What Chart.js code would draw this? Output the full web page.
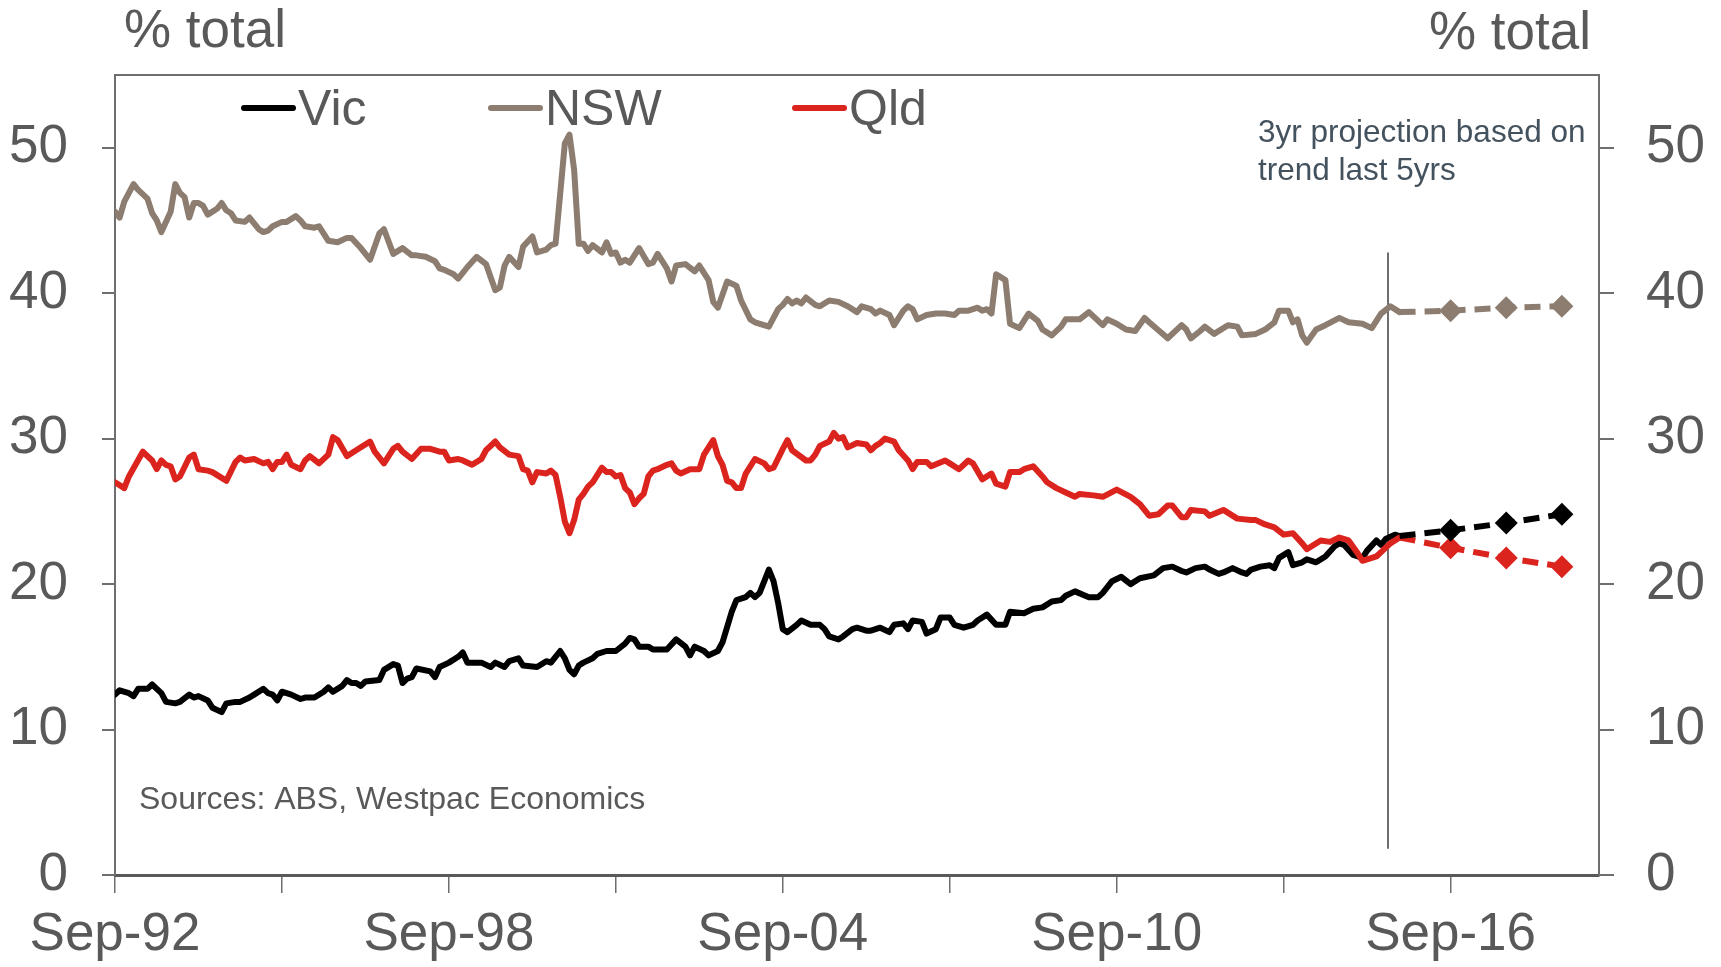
<!DOCTYPE html>
<html>
<head>
<meta charset="utf-8">
<title>Share of total - Vic, NSW, Qld</title>
<script src="https://cdn.jsdelivr.net/npm/chart.js@4.4.1/dist/chart.umd.min.js"></script>
<style>
  html, body { margin: 0; padding: 0; background: #fff; }
  #chart { display: block; }
</style>
</head>
<body>
<canvas id="chart" width="1721" height="967"></canvas>
<script>
// x = months since Sep-92, y = % of total
const vic = [[0,12.4],[1,12.7],[3,12.5],[4,12.3],[5,12.8],[7,12.8],[8,13.1],[10,12.5],[11,11.9],[13,11.8],[14,11.9],[16,12.4],[17,12.2],[18,12.3],[20,12.0],[21,11.5],[23,11.2],[24,11.8],[26,11.9],[27,11.9],[29,12.2],[30,12.4],[32,12.8],[33,12.5],[34,12.4],[35,12.0],[36,12.6],[38,12.4],[40,12.1],[41,12.2],[43,12.2],[45,12.6],[46,12.9],[47,12.6],[49,13.0],[50,13.4],[51,13.2],[52,13.2],[53,13.0],[54,13.3],[57,13.4],[58,14.1],[60,14.5],[61,14.4],[62,13.2],[63,13.5],[64,13.6],[65,14.2],[68,14.0],[69,13.6],[70,14.3],[72,14.6],[74,15.0],[75,15.3],[76,14.6],[79,14.6],[81,14.3],[82,14.6],[84,14.3],[85,14.7],[87,14.9],[88,14.4],[91,14.3],[93,14.7],[94,14.6],[96,15.4],[97,14.9],[98,14.1],[99,13.8],[100,14.4],[101,14.6],[103,14.9],[104,15.2],[106,15.4],[108,15.4],[110,15.9],[111,16.3],[112,16.2],[113,15.7],[115,15.7],[116,15.5],[117,15.5],[119,15.5],[121,16.2],[123,15.7],[124,15.1],[125,15.7],[127,15.4],[128,15.1],[130,15.4],[131,16.0],[133,18.1],[134,18.9],[136,19.1],[137,19.4],[138,19.1],[139,19.4],[141,21.0],[142,20.2],[143,18.7],[144,16.9],[145,16.7],[147,17.2],[148,17.5],[150,17.2],[152,17.2],[153,16.9],[154,16.4],[156,16.2],[157,16.4],[159,16.9],[160,17.0],[162,16.8],[163,16.8],[165,17.0],[167,16.7],[168,17.2],[170,17.3],[171,16.9],[172,17.5],[174,17.4],[175,16.6],[177,16.9],[178,17.7],[180,17.7],[181,17.2],[183,17.0],[185,17.2],[186,17.5],[188,17.9],[190,17.2],[192,17.2],[193,18.1],[196,18.0],[198,18.3],[200,18.4],[202,18.8],[204,18.9],[205,19.2],[207,19.5],[210,19.1],[212,19.1],[213,19.4],[215,20.2],[217,20.5],[219,20.0],[221,20.4],[224,20.6],[226,21.1],[228,21.2],[230,20.9],[231,20.8],[233,21.1],[235,21.2],[236,21.0],[238,20.7],[239,20.8],[241,21.1],[243,20.8],[244,20.7],[245,21.0],[247,21.2],[249,21.3],[250,21.1],[251,21.8],[253,22.2],[254,21.3],[256,21.5],[257,21.7],[259,21.5],[261,21.9],[263,22.6],[264,22.8],[265,22.7],[267,22.0],[269,21.8],[270,22.3],[272,23.0],[273,22.7],[274,23.1],[276,23.4],[277,23.3]];

const nsw = [[0,45.6],[1,45.2],[2,46.3],[4,47.5],[5,47.1],[7,46.5],[8,45.5],[9,45.0],[10,44.2],[12,45.6],[13,47.5],[14,46.9],[15,46.6],[16,45.2],[17,46.2],[18,46.2],[19,46.0],[20,45.4],[22,45.8],[23,46.2],[24,45.7],[25,45.5],[26,45.0],[28,44.9],[29,45.2],[30,44.8],[31,44.4],[32,44.2],[33,44.3],[34,44.6],[36,44.9],[37,44.9],[39,45.3],[40,45.0],[41,44.6],[43,44.5],[44,44.6],[46,43.6],[48,43.5],[50,43.8],[51,43.8],[53,43.1],[55,42.3],[57,44.1],[58,44.4],[60,42.7],[62,43.1],[64,42.6],[65,42.6],[67,42.5],[69,42.2],[70,41.7],[71,41.6],[73,41.3],[74,41.0],[76,41.8],[78,42.5],[80,42.0],[82,40.2],[83,40.4],[84,41.9],[85,42.5],[87,41.8],[88,43.2],[90,43.9],[91,42.8],[93,43.0],[94,43.3],[95,43.4],[97,50.3],[98,50.9],[99,48.5],[100,43.4],[101,43.4],[102,42.9],[103,43.3],[105,42.8],[106,43.5],[107,42.7],[108,42.8],[109,42.1],[110,42.3],[111,42.1],[113,43.1],[115,42.0],[116,42.1],[117,42.7],[119,41.7],[120,40.8],[121,41.9],[123,42.0],[125,41.5],[126,41.9],[128,40.9],[129,39.4],[130,39.0],[132,40.8],[134,40.5],[135,39.5],[137,38.2],[138,38.0],[141,37.7],[143,38.9],[144,39.2],[145,39.6],[146,39.3],[147,39.5],[148,39.3],[149,39.7],[151,39.2],[152,39.1],[154,39.5],[156,39.4],[158,39.1],[160,38.7],[161,39.1],[163,38.9],[164,38.6],[165,38.8],[167,38.5],[168,37.8],[170,38.8],[171,39.1],[172,38.9],[173,38.2],[175,38.5],[177,38.6],[179,38.6],[181,38.5],[182,38.8],[184,38.8],[186,39.0],[187,38.8],[188,38.9],[189,38.6],[190,41.3],[192,40.9],[193,37.9],[195,37.6],[197,38.6],[199,38.1],[200,37.5],[202,37.1],[204,37.7],[205,38.2],[208,38.2],[210,38.7],[213,37.8],[214,38.2],[216,37.9],[218,37.5],[220,37.4],[222,38.3],[223,38.0],[227,36.9],[230,37.8],[231,37.5],[232,36.9],[234,37.4],[235,37.7],[237,37.2],[240,37.8],[242,37.7],[243,37.1],[246,37.2],[248,37.5],[250,38.0],[251,38.8],[253,38.8],[254,38.0],[255,38.2],[256,37.1],[257,36.6],[259,37.5],[261,37.8],[264,38.3],[266,38.0],[269,37.9],[271,37.6],[273,38.6],[275,39.1],[277,38.7]];

const qld = [[0,27.0],[2,26.6],[3,27.4],[6,29.1],[8,28.5],[9,27.9],[10,28.5],[11,28.2],[12,28.1],[13,27.2],[14,27.4],[16,28.7],[17,28.9],[18,27.9],[20,27.8],[21,27.7],[23,27.3],[24,27.1],[26,28.4],[27,28.7],[28,28.5],[30,28.6],[32,28.3],[33,28.4],[34,27.9],[35,28.4],[36,28.4],[37,28.9],[38,28.2],[40,27.9],[41,28.5],[42,28.8],[44,28.3],[46,28.9],[47,30.1],[48,29.9],[50,28.8],[51,29.0],[52,29.2],[55,29.8],[56,29.1],[58,28.3],[60,29.3],[61,29.5],[62,29.1],[64,28.6],[66,29.3],[68,29.3],[70,29.1],[71,29.1],[72,28.5],[74,28.6],[75,28.5],[77,28.2],[79,28.6],[80,29.2],[82,29.8],[83,29.4],[85,28.9],[87,28.8],[88,27.9],[89,27.8],[90,27.0],[91,27.7],[93,27.6],[94,27.8],[95,27.5],[96,26.0],[97,24.3],[98,23.5],[99,24.4],[100,25.8],[101,26.2],[102,26.7],[103,27.0],[105,28.0],[106,27.7],[107,27.7],[108,27.4],[109,27.5],[110,26.6],[111,26.3],[112,25.5],[113,25.9],[114,26.2],[115,27.4],[116,27.8],[117,27.9],[119,28.2],[120,28.3],[121,27.8],[122,27.6],[124,27.9],[126,27.9],[127,28.9],[129,29.9],[130,28.8],[131,28.2],[132,27.1],[133,27.0],[134,26.6],[135,26.6],[136,27.6],[138,28.6],[140,28.3],[141,27.9],[142,28.0],[144,29.3],[145,29.9],[146,29.2],[149,28.5],[150,28.5],[151,28.9],[152,29.5],[154,29.8],[155,30.4],[156,30.0],[157,30.1],[158,29.4],[160,29.7],[162,29.6],[163,29.2],[164,29.5],[165,29.7],[166,30.0],[168,29.8],[169,29.2],[171,28.5],[172,27.9],[173,28.4],[175,28.4],[176,28.1],[179,28.5],[180,28.3],[182,27.9],[184,28.5],[185,28.3],[187,27.2],[189,27.6],[190,26.9],[192,26.7],[193,27.7],[195,27.7],[196,27.9],[198,28.1],[200,27.4],[201,27.0],[203,26.6],[205,26.3],[207,26.0],[208,26.2],[211,26.1],[213,26.0],[216,26.5],[219,26.0],[221,25.5],[223,24.7],[225,24.8],[227,25.4],[228,25.4],[230,24.6],[231,24.6],[232,25.1],[235,25.0],[236,24.7],[239,25.1],[242,24.5],[245,24.4],[246,24.4],[248,24.1],[250,23.9],[252,23.4],[254,23.5],[256,22.8],[257,22.4],[260,23.0],[262,22.9],[264,23.2],[266,23.0],[268,22.1],[269,21.6],[272,21.9],[273,22.2],[275,22.8],[277,23.2]];

// 3yr projection: last actual, Sep-16, Sep-17, Sep-18
const vicProj = [[277,23.3],[288,23.7],[300,24.2],[312,24.8]];
const nswProj = [[277,38.7],[288,38.8],[300,39.0],[312,39.1]];
const qldProj = [[277,23.2],[288,22.5],[300,21.8],[312,21.2]];

const tickMonths = [0, 36, 72, 108, 144, 180, 216, 252, 288];
const tickLabels = ['Sep-92', '', 'Sep-98', '', 'Sep-04', '', 'Sep-10', '', 'Sep-16'];
const yTicks = [0, 10, 20, 30, 40, 50];
const projectionStart = 274.5;
const projectionLine = [1.8, 42.8];

const COLORS = { vic: '#000000', nsw: '#8c7d70', qld: '#dc241f' };
const TEXT = '#595959';
const FRAME = '#6e6e6e';

Chart.defaults.font.family = "'Liberation Sans', Arial, sans-serif";

const toXY = arr => arr.map(p => ({ x: p[0], y: p[1] }));

function lineSet(label, data, color, order) {
    return {
        label: label,
        data: toXY(data),
        borderColor: color,
        backgroundColor: color,
        borderWidth: 6,
        pointRadius: 0,
        borderJoinStyle: 'round',
        borderCapStyle: 'round',
        tension: 0,
        order: order
    };
}

function projSet(label, data, color) {
    return {
        label: label,
        data: toXY(data),
        borderColor: color,
        backgroundColor: color,
        borderWidth: 6,
        borderDash: [16, 9],
        pointStyle: 'rectRot',
        pointRadius: data.map((p, i) => (i === 0 ? 0 : 11.5)),
        pointBorderWidth: 0,
        tension: 0,
        order: 0
    };
}

const legendItems = [
    { label: 'Vic', color: COLORS.vic, x: 241 },
    { label: 'NSW', color: COLORS.nsw, x: 488 },
    { label: 'Qld', color: COLORS.qld, x: 792 }
];

const decorations = {
    id: 'decorations',
    beforeDatasetsDraw(chart) {
        const { ctx, scales } = chart;
        const x = scales.x.getPixelForValue(projectionStart);
        ctx.save();
        ctx.strokeStyle = FRAME;
        ctx.lineWidth = 2;
        ctx.beginPath();
        ctx.moveTo(x, scales.y.getPixelForValue(projectionLine[1]));
        ctx.lineTo(x, scales.y.getPixelForValue(projectionLine[0]));
        ctx.stroke();
        ctx.restore();
    },
    afterDraw(chart) {
        const { ctx, chartArea } = chart;
        ctx.save();
        // top of the frame
        ctx.strokeStyle = FRAME;
        ctx.lineWidth = 2;
        ctx.beginPath();
        ctx.moveTo(chartArea.left, chartArea.top);
        ctx.lineTo(chartArea.right, chartArea.top);
        ctx.stroke();

        // unit titles
        ctx.fillStyle = TEXT;
        ctx.font = "53px 'Liberation Sans', Arial, sans-serif";
        ctx.textBaseline = 'alphabetic';
        ctx.textAlign = 'left';
        ctx.fillText('% total', 124, 47);
        ctx.textAlign = 'right';
        ctx.fillText('% total', 1591, 49);

        // legend
        ctx.textAlign = 'left';
        ctx.font = "50px 'Liberation Sans', Arial, sans-serif";
        legendItems.forEach(item => {
            ctx.strokeStyle = item.color;
            ctx.lineWidth = 6;
            ctx.lineCap = 'round';
            ctx.beginPath();
            ctx.moveTo(item.x + 3, 108);
            ctx.lineTo(item.x + 52, 108);
            ctx.stroke();
            ctx.fillStyle = TEXT;
            ctx.fillText(item.label, item.x + 57, 125);
        });

        // notes
        ctx.fillStyle = '#44525e';
        ctx.font = "31.5px 'Liberation Sans', Arial, sans-serif";
        ctx.fillText('3yr projection based on', 1258, 142);
        ctx.fillText('trend last 5yrs', 1258, 180);

        ctx.fillStyle = TEXT;
        ctx.font = "32px 'Liberation Sans', Arial, sans-serif";
        ctx.fillText('Sources: ABS, Westpac Economics', 139, 809);
        ctx.restore();
    }
};

const yScale = (position, width, tickLength, padding) => ({
    type: 'linear',
    position: position,
    min: 0,
    max: 55,
    afterBuildTicks: s => { s.ticks = yTicks.map(v => ({ value: v })); },
    afterFit: s => { s.width = width; },
    grid: { drawOnChartArea: false, drawTicks: true, tickLength: tickLength, color: FRAME, lineWidth: 2 },
    border: { display: true, color: FRAME, width: 2 },
    ticks: { color: TEXT, padding: padding, font: { size: 53 } }
});

const ctx = document.getElementById('chart').getContext('2d');
new Chart(ctx, {
    type: 'line',
    data: {
        datasets: [
            lineSet('Vic', vic, COLORS.vic, 3),
            lineSet('NSW', nsw, COLORS.nsw, 2),
            lineSet('Qld', qld, COLORS.qld, 1),
            projSet('Vic projection', vicProj, COLORS.vic),
            projSet('NSW projection', nswProj, COLORS.nsw),
            projSet('Qld projection', qldProj, COLORS.qld)
        ]
    },
    options: {
        responsive: false,
        animation: false,
        devicePixelRatio: 1,
        layout: { padding: { top: 75, left: 0, right: 0, bottom: 0 } },
        plugins: {
            legend: { display: false },
            tooltip: { enabled: false }
        },
        scales: {
            x: {
                type: 'linear',
                min: 0,
                max: 320,
                afterBuildTicks: s => { s.ticks = tickMonths.map(v => ({ value: v })); },
                afterFit: s => { s.height = 92; },
                grid: { drawOnChartArea: false, drawTicks: true, tickLength: 18, color: FRAME, lineWidth: 1.5 },
                border: { display: true, color: '#595959', width: 3 },
                ticks: {
                    autoSkip: false,
                    maxRotation: 0,
                    padding: 11,
                    color: TEXT,
                    font: { size: 53 },
                    callback: (value, index) => tickLabels[index]
                }
            },
            y: yScale('left', 115, 13, 34),
            y2: yScale('right', 122, 15, 32)
        }
    },
    plugins: [decorations]
});
</script>
</body>
</html>
